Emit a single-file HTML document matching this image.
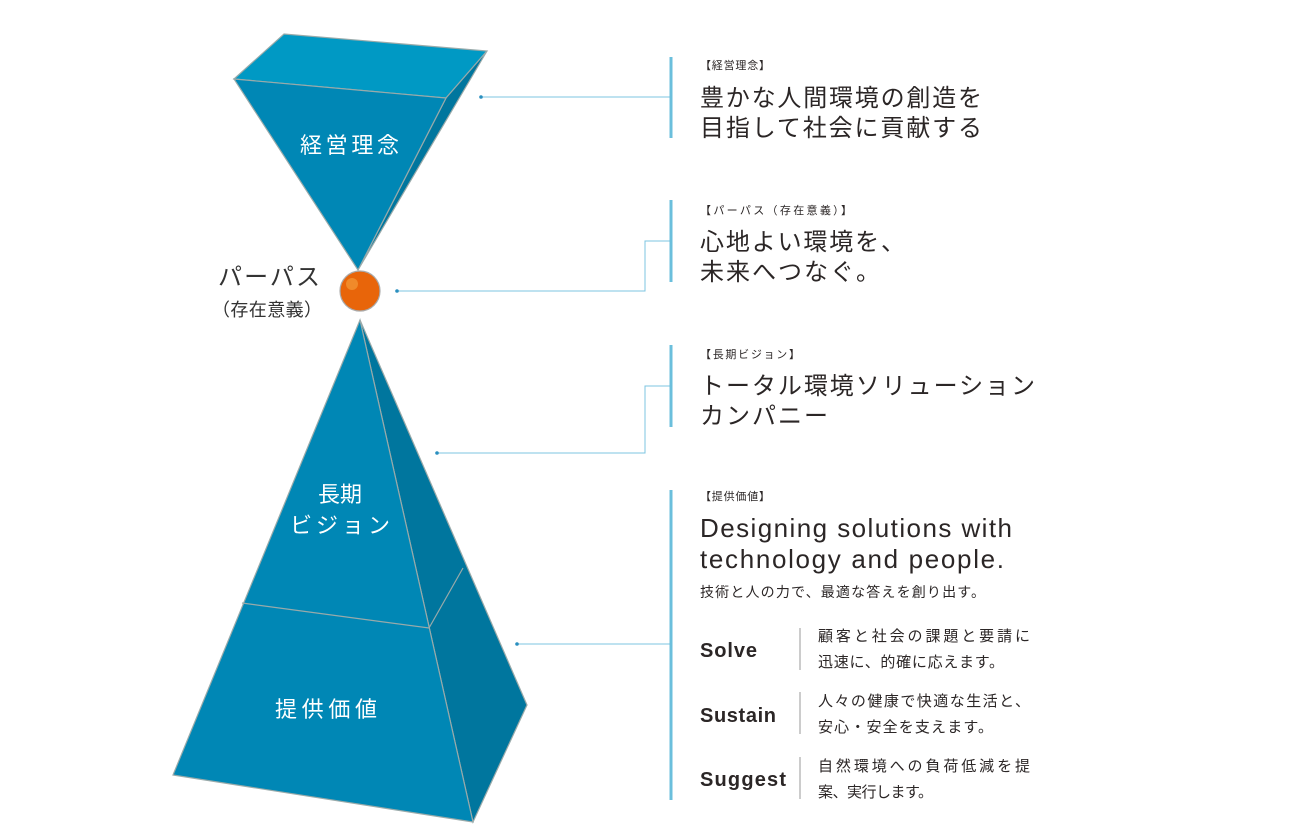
<!DOCTYPE html>
<html><head><meta charset="utf-8"><style>
html,body{margin:0;padding:0;background:#fff;}
svg{display:block}
text{font-family:"Liberation Sans","Noto Sans CJK JP",sans-serif;}
</style></head><body>
<svg width="1290" height="840" viewBox="0 0 1290 840" xmlns="http://www.w3.org/2000/svg">
<polygon points="234,79 284,34 487,51 446,98" fill="#0099c4" stroke="#9aa" stroke-width="1.2"/>
<polygon points="446,98 487,51 358,270" fill="#00769e" stroke="#9aa" stroke-width="1.2"/>
<polygon points="234,79 446,98 358,270" fill="#0087b5" stroke="#9aa" stroke-width="1.2"/>
<text x="300" y="153" font-size="22" letter-spacing="3" fill="#fff" textLength="102">経営理念</text>
<polygon points="360,320 527,705 473,822" fill="#00769e" stroke="#9aa" stroke-width="1.2"/>
<polygon points="360,320 173,775 473,822" fill="#0087b5" stroke="#9aa" stroke-width="1.2"/>
<polyline points="242,603 429,628 463,568" fill="none" stroke="#9aa" stroke-width="1.2"/>
<text x="340" y="502" font-size="22" fill="#fff" text-anchor="middle">長期</text>
<text x="290" y="533" font-size="22" fill="#fff" textLength="100">ビジョン</text>
<text x="275" y="717" font-size="22" fill="#fff" textLength="102">提供価値</text>
<circle cx="360" cy="291" r="20" fill="#e8650a" stroke="#aaa" stroke-width="1.2"/>
<circle cx="352" cy="284" r="6" fill="#f08a2a"/>
<text x="218" y="285" font-size="24" fill="#333" textLength="102">パーパス</text>
<text x="212" y="316" font-size="18" fill="#333" textLength="110">（存在意義）</text>
<g stroke="#7cc4e0" stroke-width="1" fill="none">
<line x1="481" y1="97" x2="670" y2="97"/>
<polyline points="397,291 645,291 645,241 670,241"/>
<polyline points="437,453 645,453 645,386 670,386"/>
<line x1="517" y1="644" x2="670" y2="644"/>
</g>
<g fill="#2a8fbf"><circle cx="481" cy="97" r="1.8"/><circle cx="397" cy="291" r="1.8"/><circle cx="437" cy="453" r="1.8"/><circle cx="517" cy="644" r="1.8"/></g>
<g stroke="#6bbfdc" stroke-width="3">
<line x1="671" y1="57" x2="671" y2="138"/>
<line x1="671" y1="200" x2="671" y2="282"/>
<line x1="671" y1="345" x2="671" y2="427"/>
<line x1="671" y1="490" x2="671" y2="800"/>
</g>
<g fill="#2b2626">
<text x="700" y="69" font-size="11" textLength="70">【経営理念】</text>
<text x="700" y="106" font-size="24" textLength="282">豊かな人間環境の創造を</text>
<text x="700" y="136" font-size="24" textLength="282">目指して社会に貢献する</text>
<text x="700" y="214" font-size="11" textLength="152">【パーパス（存在意義）】</text>
<text x="700" y="250" font-size="24" textLength="205">心地よい環境を、</text>
<text x="700" y="280" font-size="24" textLength="180">未来へつなぐ。</text>
<text x="700" y="358" font-size="11" textLength="100">【長期ビジョン】</text>
<text x="700" y="394" font-size="24" textLength="335">トータル環境ソリューション</text>
<text x="700" y="424" font-size="24" textLength="128">カンパニー</text>
<text x="700" y="500" font-size="11" textLength="70">【提供価値】</text>
<text x="700" y="537" font-size="26" textLength="312">Designing solutions with</text>
<text x="700" y="568" font-size="26" textLength="304">technology and people.</text>
<text x="700" y="597" font-size="14" textLength="285">技術と人の力で、最適な答えを創り出す。</text>
<text x="700" y="657" font-size="20" font-weight="bold" textLength="57">Solve</text>
<text x="700" y="722" font-size="20" font-weight="bold" textLength="76">Sustain</text>
<text x="700" y="786" font-size="20" font-weight="bold" textLength="86">Suggest</text>
<text x="818" y="641" font-size="15" textLength="212">顧客と社会の課題と要請に</text>
<text x="818" y="667" font-size="15" textLength="186">迅速に、的確に応えます。</text>
<text x="818" y="706" font-size="15" textLength="212">人々の健康で快適な生活と、</text>
<text x="818" y="732" font-size="15" textLength="175">安心・安全を支えます。</text>
<text x="818" y="771" font-size="15" textLength="212">自然環境への負荷低減を提</text>
<text x="818" y="797" font-size="15" textLength="115">案、実行します。</text>
</g>
<g stroke="#ccc" stroke-width="2">
<line x1="800" y1="628" x2="800" y2="670"/>
<line x1="800" y1="692" x2="800" y2="734"/>
<line x1="800" y1="757" x2="800" y2="799"/>
</g>
</svg>
</body></html>
